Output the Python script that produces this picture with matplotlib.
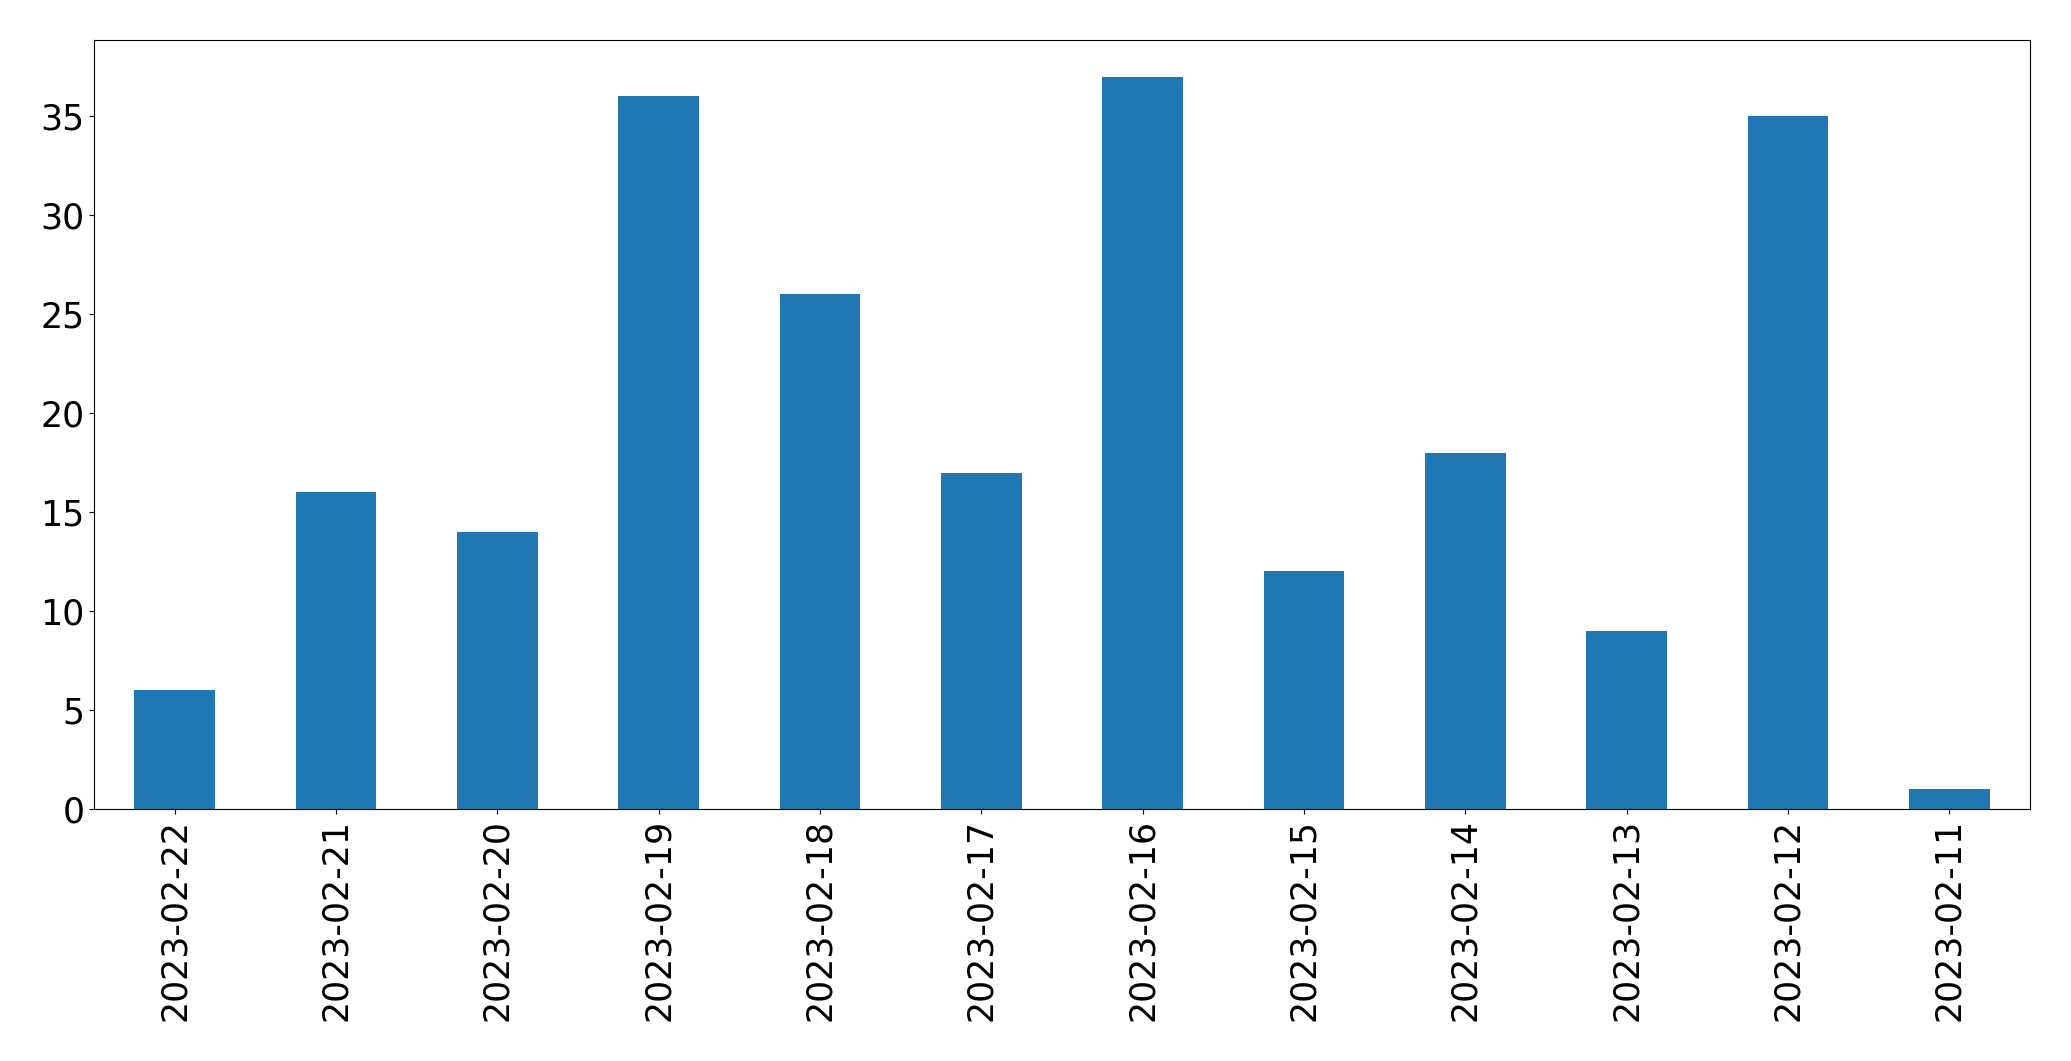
import numpy as np
import matplotlib
matplotlib.use("Agg")
import matplotlib.pyplot as plt

# daily counts, newest first
dates = ["2023-02-22", "2023-02-21", "2023-02-20", "2023-02-19", "2023-02-18",
         "2023-02-17", "2023-02-16", "2023-02-15", "2023-02-14", "2023-02-13",
         "2023-02-12", "2023-02-11"]
counts = [6, 16, 14, 36, 26, 17, 37, 12, 18, 9, 35, 1]

fig, ax = plt.subplots(figsize=(20.71, 10.61), dpi=100)
fig.subplots_adjust(left=0.0454, right=0.9802, top=0.9623, bottom=0.2375)

x = np.arange(len(dates))
ax.bar(x, counts, width=0.5, color="#1f77b4")
ax.set_xlim(-0.5, len(dates) - 0.5)
ax.set_xticks(x)
ax.set_xticklabels(dates, rotation=90)
ax.tick_params(labelsize=25)

fig.savefig("out.png")
